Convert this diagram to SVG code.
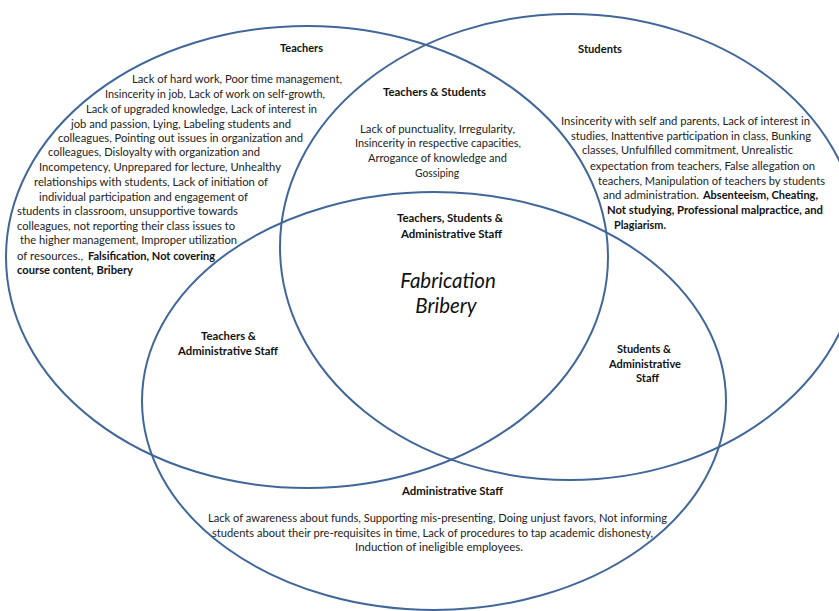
<svg xmlns="http://www.w3.org/2000/svg" width="839" height="611" viewBox="0 0 839 611">
<style>
.c{fill:none;stroke:#41679A;stroke-width:2}
text{font-family:Lato,"Open Sans","Liberation Sans",sans-serif;font-size:10.5px;fill:#222}
.b{font-weight:bold;fill:#111}
.f{font-size:20.5px;font-style:italic;fill:#111}
</style>
<rect width="839" height="611" fill="#fff"/>
<g id="circles">
<ellipse class="c" cx="307" cy="257" rx="301" ry="231"/>
<ellipse class="c" cx="570" cy="247" rx="290" ry="233"/>
<ellipse class="c" cx="434" cy="401" rx="292" ry="209"/>
</g>
<g id="teachers">
<text class="b" x="280" y="52" textLength="43" lengthAdjust="spacingAndGlyphs">Teachers</text>
<text x="132" y="83" textLength="210" lengthAdjust="spacingAndGlyphs">Lack of hard work, Poor time management,</text>
<text x="105" y="98" textLength="220" lengthAdjust="spacingAndGlyphs">Insincerity in job, Lack of work on self-growth,</text>
<text x="86" y="113" textLength="231" lengthAdjust="spacingAndGlyphs">Lack of upgraded knowledge,  Lack of interest in</text>
<text x="71" y="128" textLength="220" lengthAdjust="spacingAndGlyphs">job and passion, Lying, Labeling students  and</text>
<text x="58" y="142" textLength="245" lengthAdjust="spacingAndGlyphs">colleagues, Pointing  out issues in organization and</text>
<text x="48" y="156" textLength="212" lengthAdjust="spacingAndGlyphs">colleagues,  Disloyalty  with organization  and</text>
<text x="39" y="171" textLength="242" lengthAdjust="spacingAndGlyphs">Incompetency,  Unprepared  for lecture,  Unhealthy</text>
<text x="34" y="186" textLength="234" lengthAdjust="spacingAndGlyphs">relationships  with students,   Lack of initiation  of</text>
<text x="39" y="201" textLength="209" lengthAdjust="spacingAndGlyphs">individual  participation  and engagement of</text>
<text x="17" y="215" textLength="221" lengthAdjust="spacingAndGlyphs">students in classroom,  unsupportive towards</text>
<text x="17" y="230" textLength="218" lengthAdjust="spacingAndGlyphs">colleagues,  not reporting their class issues to</text>
<text x="20" y="244" textLength="217" lengthAdjust="spacingAndGlyphs">the higher management,  Improper utilization</text>
<text x="17" y="260" textLength="66" lengthAdjust="spacingAndGlyphs">of resources.,</text>
<text class="b" x="88" y="260" textLength="127" lengthAdjust="spacingAndGlyphs">Falsification,  Not covering</text>
<text class="b" x="17" y="274" textLength="116" lengthAdjust="spacingAndGlyphs">course content, Bribery</text>
</g>
<g id="students">
<text class="b" x="578" y="53" textLength="44" lengthAdjust="spacingAndGlyphs">Students</text>
<text x="561" y="125" textLength="249" lengthAdjust="spacingAndGlyphs">Insincerity with self and  parents, Lack of interest in</text>
<text x="571" y="140" textLength="240" lengthAdjust="spacingAndGlyphs">studies,  Inattentive  participation  in class, Bunking</text>
<text x="582" y="154" textLength="211" lengthAdjust="spacingAndGlyphs">classes, Unfulfilled  commitment,  Unrealistic</text>
<text x="590" y="170" textLength="225" lengthAdjust="spacingAndGlyphs">expectation  from teachers, False allegation  on</text>
<text x="598" y="185" textLength="227" lengthAdjust="spacingAndGlyphs">teachers, Manipulation  of teachers by students</text>
<text x="603" y="199" textLength="96" lengthAdjust="spacingAndGlyphs">and administration.</text>
<text class="b" x="703" y="199" textLength="115" lengthAdjust="spacingAndGlyphs">Absenteeism, Cheating,</text>
<text class="b" x="607" y="214" textLength="216" lengthAdjust="spacingAndGlyphs">Not studying,  Professional  malpractice,  and</text>
<text class="b" x="614" y="229" textLength="52" lengthAdjust="spacingAndGlyphs">Plagiarism.</text>
</g>
<g id="teachers-students">
<text class="b" x="383" y="96" textLength="103" lengthAdjust="spacingAndGlyphs">Teachers &amp; Students</text>
<text x="360" y="133" textLength="155" lengthAdjust="spacingAndGlyphs">Lack of punctuality,  Irregularity,</text>
<text x="355" y="147" textLength="166" lengthAdjust="spacingAndGlyphs">Insincerity in respective capacities,</text>
<text x="368" y="162" textLength="139" lengthAdjust="spacingAndGlyphs">Arrogance of knowledge and</text>
<text x="415" y="177" textLength="44" lengthAdjust="spacingAndGlyphs">Gossiping</text>
</g>
<g id="all-three">
<text class="b" x="397" y="222" textLength="106" lengthAdjust="spacingAndGlyphs">Teachers, Students &amp;</text>
<text class="b" x="401" y="238" textLength="101" lengthAdjust="spacingAndGlyphs">Administrative Staff</text>
<text class="f" x="448" y="288" text-anchor="middle">Fabrication</text>
<text class="f" x="446" y="313" text-anchor="middle">Bribery</text>
</g>
<g id="teachers-admin">
<text class="b" x="201" y="340" textLength="55" lengthAdjust="spacingAndGlyphs">Teachers &amp;</text>
<text class="b" x="178" y="355" textLength="100" lengthAdjust="spacingAndGlyphs">Administrative Staff</text>
</g>
<g id="students-admin">
<text class="b" x="617" y="353" textLength="54" lengthAdjust="spacingAndGlyphs">Students &amp;</text>
<text class="b" x="609" y="368" textLength="72" lengthAdjust="spacingAndGlyphs">Administrative</text>
<text class="b" x="636" y="382" textLength="23" lengthAdjust="spacingAndGlyphs">Staff</text>
</g>
<g id="admin">
<text class="b" x="402" y="495" textLength="101" lengthAdjust="spacingAndGlyphs">Administrative Staff</text>
<text x="208" y="522" textLength="459" lengthAdjust="spacingAndGlyphs">Lack of awareness about funds, Supporting  mis-presenting,  Doing  unjust favors, Not informing</text>
<text x="212" y="537" textLength="441" lengthAdjust="spacingAndGlyphs">students  about their pre-requisites  in time, Lack of procedures to tap academic dishonesty,</text>
<text x="355" y="551" textLength="168" lengthAdjust="spacingAndGlyphs">Induction  of  ineligible  employees.</text>
</g>
</svg>
